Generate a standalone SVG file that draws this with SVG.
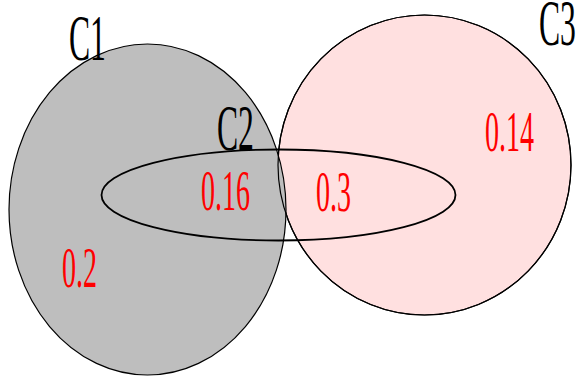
<svg xmlns="http://www.w3.org/2000/svg" width="577" height="381" viewBox="0 0 577 381">
  <style>
    .set { stroke: #000; stroke-width: 1.2; }
    .name { font-family: "Liberation Serif", "Times New Roman", serif; font-size: 66px; fill: #000; }
    .val { font-family: "Liberation Serif", "Times New Roman", serif; font-size: 56px; fill: #ff0000; }
  </style>
  <rect width="577" height="381" fill="#fff"/>
  <g id="C3">
    <ellipse cx="424.5" cy="165" rx="146.5" ry="150" fill="#ffe0e0" class="set"/>
  </g>
  <g id="C1">
    <ellipse cx="147.5" cy="209.5" rx="138.5" ry="165.5" fill="#bebebe" class="set"/>
  </g>
  <!-- C3 outline kept visible where C1 overlaps it -->
  <ellipse cx="424.5" cy="165" rx="146.5" ry="150" fill="none" class="set"/>
  <g id="C2">
    <ellipse cx="278.5" cy="195" rx="177" ry="45.5" fill="none" stroke="#000" stroke-width="1.8"/>
  </g>
  <g id="labels">
    <text class="name" transform="translate(69,60) scale(0.48,1)">C1</text>
    <text class="name" transform="translate(217,150) scale(0.48,1)">C2</text>
    <text class="name" transform="translate(539,45) scale(0.48,1)">C3</text>
    <text class="val" transform="translate(485,151) scale(0.5,1)">0.14</text>
    <text class="val" transform="translate(201,210) scale(0.5,1)">0.16</text>
    <text class="val" transform="translate(316,211) scale(0.5,1)">0.3</text>
    <text class="val" transform="translate(62,287) scale(0.5,1)">0.2</text>
  </g>
</svg>
